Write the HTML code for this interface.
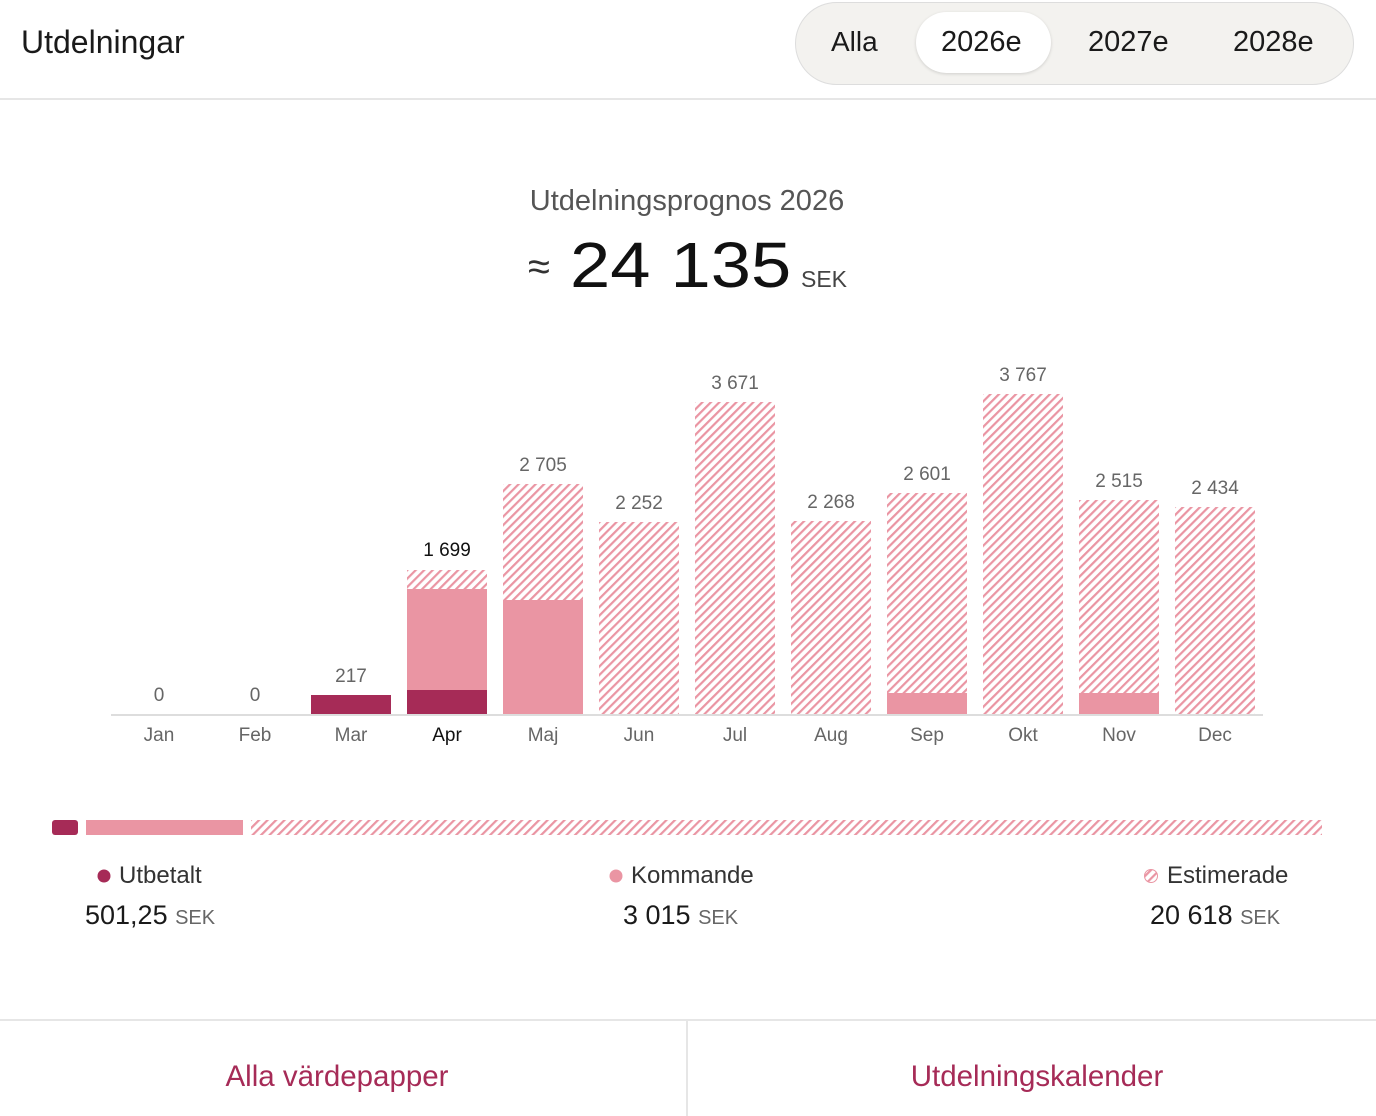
<!DOCTYPE html><html><head><meta charset="utf-8"><style>
body{margin:0;width:1376px;height:1116px;background:#fff;font-family:"Liberation Sans",sans-serif;position:relative;overflow:hidden;color:#1a1a1a}
.a{position:absolute;white-space:nowrap}
</style></head><body>
<div class="a" style="left:21px;top:24px;font-size:32px">Utdelningar</div>
<div class="a" style="left:795px;top:2px;width:557px;height:81px;border:1px solid #ddd;border-radius:42px;background:#f3f2ef"></div>
<div class="a" style="left:916px;top:12px;width:135px;height:61px;border-radius:31px;background:#fff;box-shadow:0 1px 3px rgba(0,0,0,.15)"></div>
<div class="a" style="left:831px;top:26px;font-size:28px">Alla</div>
<div class="a" style="left:941px;top:26px;font-size:29px">2026e</div>
<div class="a" style="left:1088px;top:26px;font-size:29px">2027e</div>
<div class="a" style="left:1233px;top:26px;font-size:29px">2028e</div>
<div class="a" style="left:0;top:98px;width:1376px;height:2px;background:#e6e6e6"></div>
<div class="a" style="left:0;top:185px;width:1374px;text-align:center;font-size:29px;color:#555">Utdelningsprognos 2026</div>
<div class="a" style="left:528px;top:245px;font-size:40px;color:#333">≈</div>
<div class="a" style="left:570px;top:228px;font-size:64px;color:#111;transform:scaleX(1.13);transform-origin:left top">24 135</div>
<div class="a" style="left:801px;top:266px;font-size:23px;color:#444">SEK</div>
<svg class="a" style="left:0;top:0" width="1376" height="1116">
<defs><pattern id="h" patternUnits="userSpaceOnUse" width="6" height="6" patternTransform="rotate(45)"><rect width="6" height="6" fill="#fff"/><rect width="2.2" height="6" fill="#ea95a3"/></pattern></defs>
<g font-family="Liberation Sans" font-size="19" fill="#666" text-anchor="middle">
<rect x="111" y="714" width="1152" height="2" fill="#ddd"/>
<rect x="311" y="695" width="80" height="19" fill="#a62b57"/>
<rect x="407" y="570" width="80" height="19" fill="url(#h)"/>
<rect x="407" y="589" width="80" height="101" fill="#ea95a3"/>
<rect x="407" y="690" width="80" height="24" fill="#a62b57"/>
<rect x="503" y="484" width="80" height="116" fill="url(#h)"/>
<rect x="503" y="600" width="80" height="114" fill="#ea95a3"/>
<rect x="599" y="522" width="80" height="192" fill="url(#h)"/>
<rect x="695" y="402" width="80" height="312" fill="url(#h)"/>
<rect x="791" y="521" width="80" height="193" fill="url(#h)"/>
<rect x="887" y="493" width="80" height="200" fill="url(#h)"/>
<rect x="887" y="693" width="80" height="21" fill="#ea95a3"/>
<rect x="983" y="394" width="80" height="320" fill="url(#h)"/>
<rect x="1079" y="500" width="80" height="193" fill="url(#h)"/>
<rect x="1079" y="693" width="80" height="21" fill="#ea95a3"/>
<rect x="1175" y="507" width="80" height="207" fill="url(#h)"/>
<text x="159" y="701">0</text><text x="255" y="701">0</text><text x="351" y="682">217</text>
<text x="447" y="556" fill="#111">1 699</text><text x="543" y="471">2 705</text><text x="639" y="509">2 252</text>
<text x="735" y="389">3 671</text><text x="831" y="508">2 268</text><text x="927" y="480">2 601</text>
<text x="1023" y="381">3 767</text><text x="1119" y="487">2 515</text><text x="1215" y="494">2 434</text>
<text x="159" y="741">Jan</text><text x="255" y="741">Feb</text><text x="351" y="741">Mar</text><text x="447" y="741" fill="#111">Apr</text>
<text x="543" y="741">Maj</text><text x="639" y="741">Jun</text><text x="735" y="741">Jul</text><text x="831" y="741">Aug</text>
<text x="927" y="741">Sep</text><text x="1023" y="741">Okt</text><text x="1119" y="741">Nov</text><text x="1215" y="741">Dec</text>
</g>
<rect x="52" y="820" width="26" height="15" rx="3" fill="#a62b57"/>
<rect x="86" y="820" width="157" height="15" fill="#ea95a3"/>
<rect x="251" y="820" width="1071" height="15" fill="url(#h)"/>
<circle cx="104" cy="876" r="6.5" fill="#a62b57"/>
<circle cx="616" cy="876" r="6.5" fill="#ea95a3"/>
<circle cx="1151" cy="876" r="6.5" fill="url(#h)" stroke="#ea95a3" stroke-width="1"/>
</svg>
<div class="a" style="left:119px;top:862px;font-size:24px;color:#333">Utbetalt</div>
<div class="a" style="left:631px;top:862px;font-size:24px;color:#333">Kommande</div>
<div class="a" style="left:1167px;top:862px;font-size:24px;color:#333">Estimerade</div>
<div class="a" style="left:85px;top:900px;font-size:27px">501,25 <span style="font-size:20px;color:#666">SEK</span></div>
<div class="a" style="left:623px;top:900px;font-size:27px">3 015 <span style="font-size:20px;color:#666">SEK</span></div>
<div class="a" style="left:1150px;top:900px;font-size:27px">20 618 <span style="font-size:20px;color:#666">SEK</span></div>
<div class="a" style="left:0;top:1019px;width:1376px;height:2px;background:#e6e6e6"></div>
<div class="a" style="left:686px;top:1021px;width:2px;height:95px;background:#e6e6e6"></div>
<div class="a" style="left:0;top:1060px;width:674px;text-align:center;font-size:29.5px;color:#a62b57">Alla värdepapper</div>
<div class="a" style="left:688px;top:1060px;width:698px;text-align:center;font-size:29.5px;color:#a62b57">Utdelningskalender</div>
</body></html>
